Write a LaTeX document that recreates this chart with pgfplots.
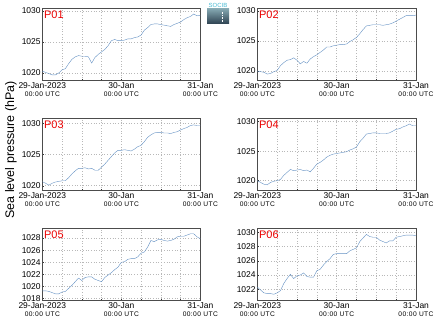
\documentclass[border=0pt]{standalone}
\usepackage{fontspec}
\setmainfont{Liberation Sans}
\usepackage{pgfplots}
\usepackage{pgfplotstable}
\pgfplotsset{compat=1.18}
\definecolor{slp}{RGB}{100,145,195}
\definecolor{pred}{RGB}{235,0,0}
\pgfplotstableread{
h p1 p2 p3 p4 p5 p6
0 1020.3 1020.0 1020.65 1020.0 1019.3 1022.3
1 1020.1 1019.9 1020.4 1019.7 1019.3 1021.9
2 1019.9 1019.8 1020.1 1019.4 1019.2 1021.5
3 1019.7 1019.5 1020.4 1019.3 1019.0 1021.4
4 1019.7 1019.6 1020.6 1019.7 1018.8 1021.4
5 1020.0 1019.9 1020.7 1019.9 1018.8 1021.3
6 1020.5 1020.1 1020.8 1020.0 1019.1 1021.5
7 1020.7 1020.9 1020.8 1020.2 1019.2 1021.8
8 1021.5 1021.4 1021.3 1020.9 1019.7 1022.8
9 1022.2 1021.8 1021.9 1021.4 1020.2 1023.5
10 1022.6 1021.9 1022.4 1021.9 1020.8 1024.1
11 1022.8 1022.2 1022.8 1021.7 1021.4 1023.5
12 1022.7 1021.8 1022.8 1021.8 1021.0 1023.9
13 1022.7 1021.2 1022.9 1021.9 1021.5 1024.0
14 1022.6 1021.6 1022.7 1021.7 1021.6 1024.3
15 1021.6 1021.3 1022.8 1021.8 1021.6 1023.8
16 1022.5 1022.0 1022.5 1021.5 1021.2 1023.7
17 1023.0 1022.4 1022.5 1022.1 1021.0 1023.7
18 1023.4 1022.7 1023.0 1022.8 1020.8 1024.6
19 1023.8 1023.1 1023.5 1023.1 1021.5 1024.8
20 1024.4 1023.5 1024.1 1023.5 1021.9 1025.4
21 1025.2 1024.0 1024.7 1024.0 1022.3 1025.9
22 1025.4 1024.0 1025.3 1024.3 1022.8 1026.3
23 1025.2 1024.2 1025.7 1024.5 1023.2 1026.9
24 1025.2 1024.3 1025.7 1024.6 1024.0 1027.0
25 1025.3 1024.4 1025.8 1024.7 1024.1 1027.0
26 1025.5 1024.4 1025.7 1024.8 1024.5 1027.0
27 1025.5 1024.5 1025.6 1024.9 1024.6 1027.0
28 1025.7 1024.9 1025.9 1025.2 1024.6 1027.4
29 1025.8 1025.2 1026.3 1025.4 1024.9 1027.6
30 1026.1 1025.6 1026.5 1025.7 1025.5 1027.8
31 1026.9 1026.2 1027.1 1026.6 1025.7 1028.7
32 1027.3 1026.9 1027.8 1027.2 1026.5 1029.2
33 1027.8 1027.5 1028.2 1027.9 1027.6 1029.7
34 1027.9 1027.6 1028.5 1028.0 1027.4 1029.4
35 1027.9 1027.7 1028.6 1028.1 1027.7 1029.3
36 1027.8 1027.7 1028.6 1028.1 1027.8 1029.3
37 1027.7 1027.7 1028.5 1028.0 1027.6 1028.9
38 1027.6 1027.6 1028.5 1028.0 1027.5 1028.7
39 1027.5 1027.7 1028.4 1028.0 1027.6 1028.5
40 1027.8 1027.8 1028.6 1028.1 1027.8 1028.8
41 1028.0 1028.0 1028.7 1028.4 1028.2 1028.8
42 1028.2 1028.3 1029.0 1028.7 1028.3 1029.3
43 1028.6 1028.6 1029.2 1028.8 1028.3 1029.4
44 1028.9 1028.9 1029.4 1029.1 1028.5 1029.5
45 1029.1 1029.2 1029.7 1029.3 1028.7 1029.6
46 1029.5 1029.2 1029.8 1029.6 1028.7 1029.6
47 1029.2 1029.2 1029.7 1029.3 1028.2 1029.6
48 1029.3 1029.3 1029.7 1029.3 1027.9 1029.5
}\slpdata
\newcommand\lab[1]{#1\\[-0.5bp]{\fontsize{6.7}{7}\selectfont\addfontfeature{LetterSpace=6}00:00 UTC}}
\tikzset{plab/.style={font=\fontsize{11}{11}\selectfont, text=pred, anchor=north west, inner sep=1.6bp}}
\pgfplotsset{
  panel/.style={
    scale only axis, width=158bp, height=72bp,
    xmin=0, xmax=48,
    xtick={0,6,...,48},
    xticklabels={\lab{29-Jan-2023},,,,\lab{30-Jan},,,,\lab{31-Jan}},
    xticklabel style={align=center, font=\fontsize{8.5}{9}\selectfont, inner sep=1.5bp},
    yticklabel style={font=\fontsize{8.5}{9}\selectfont, inner xsep=1.5bp},
    /pgf/number format/assume math mode=true,
    /pgf/number format/1000 sep={},
    grid=major, grid style={dash pattern=on 0.7bp off 2bp, black!28, line width=0.5bp},
    tick align=inside, major tick length=2bp, tick pos=left,
    tick style={black!80, line width=0.4bp},
    axis line style={black!70, line width=0.9bp},
    cycle list={{slp, line width=0.9bp, mark=none}},
  },
}
\begin{document}
\begin{tikzpicture}
\useasboundingbox (0bp,0bp) rectangle (435bp,327bp);
% P01
\begin{axis}[panel, at={(42.3bp,246.3bp)}, anchor=south west, ymin=1018.76, ymax=1030.35, ytick={1020,1025,1030}]
\addplot table[x=h,y=p1] {\slpdata};
\node[plab] at (rel axis cs:0,1) {P01};
\end{axis}
% P02
\begin{axis}[panel, width=158.7bp, at={(257.3bp,246.3bp)}, anchor=south west, ymin=1018.4, ymax=1030.36, ytick={1020,1025,1030}]
\addplot table[x=h,y=p2] {\slpdata};
\node[plab] at (rel axis cs:0,1) {P02};
\end{axis}
% P03
\begin{axis}[panel, at={(42.3bp,136.3bp)}, anchor=south west, ymin=1019.2, ymax=1030.8, ytick={1020,1025,1030}]
\addplot table[x=h,y=p3] {\slpdata};
\node[plab] at (rel axis cs:0,1) {P03};
\end{axis}
% P04
\begin{axis}[panel, width=158.7bp, at={(257.3bp,136.3bp)}, anchor=south west, ymin=1018.3, ymax=1030.5, ytick={1020,1025,1030}]
\addplot table[x=h,y=p4] {\slpdata};
\node[plab] at (rel axis cs:0,1) {P04};
\end{axis}
% P05
\begin{axis}[panel, at={(42.3bp,26.3bp)}, anchor=south west, ymin=1017.67, ymax=1029.54, ytick={1018,1020,...,1028}]
\addplot table[x=h,y=p5] {\slpdata};
\node[plab] at (rel axis cs:0,1) {P05};
\end{axis}
% P06
\begin{axis}[panel, width=158.7bp, at={(257.3bp,26.3bp)}, anchor=south west, ymin=1020.4, ymax=1030.5, ytick={1022,1024,...,1030}]
\addplot table[x=h,y=p6] {\slpdata};
\node[plab] at (rel axis cs:0,1) {P06};
\end{axis}
% y label
\node[rotate=90, font=\fontsize{12.5}{13}\selectfont] at (11bp,177bp) {Sea level pressure (hPa)};
% logo
\shade[top color={rgb,255:red,130;green,165;blue,175}, bottom color={rgb,255:red,45;green,65;blue,80}] (207bp,303bp) rectangle (229bp,318bp);
\draw[white, densely dotted, line width=0.6bp] (222bp,305bp) -- (222bp,316bp);
\node[font=\fontsize{6}{6}\selectfont, text={rgb,255:red,70;green,185;blue,210}, inner sep=0pt] at (218bp,321.3bp) {SOCIB};
\end{tikzpicture}
\end{document}
